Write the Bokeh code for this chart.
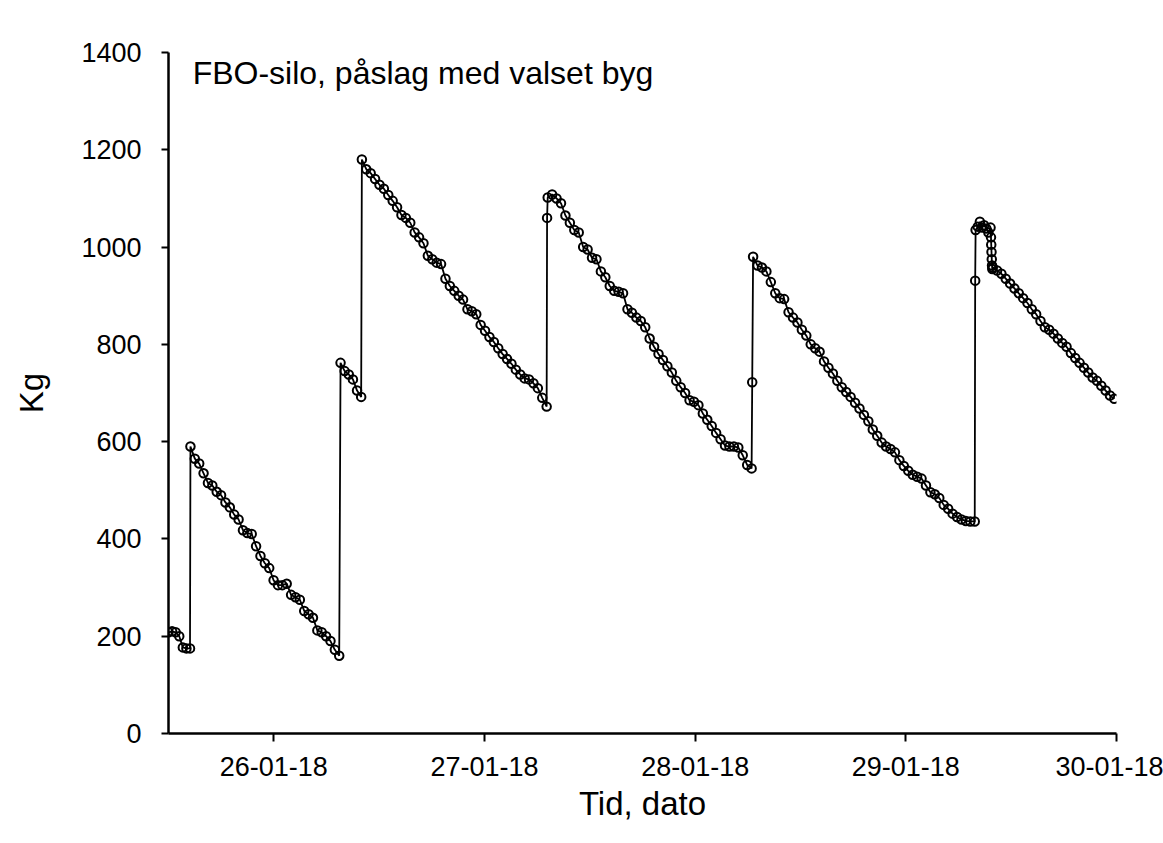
import numpy as np
import pandas as pd
from bokeh.plotting import figure
from bokeh.models import Range1d, FixedTicker, DatetimeTickFormatter, Label, ColumnDataSource
from bokeh.embed import file_html
from bokeh.resources import INLINE

# ---- data (hours since 25-01-18 12:00, silo content in kg) ----
t0 = pd.Timestamp("2018-01-25 12:00")

seg1_span = (0.0, 2.45)
seg1_kg = [208, 210, 208, 200, 177, 175, 175]

seg2_span = (2.5, 19.45)
seg2_kg = [590, 565, 555, 535, 515, 510, 497, 490, 475, 465,
           450, 440, 418, 412, 410, 385, 365, 350, 340, 315,
           305, 305, 308, 285, 280, 275, 252, 245, 238, 212,
           208, 200, 190, 172, 160]

seg3_span = (19.6, 21.95)
seg3_kg = [762, 745, 738, 728, 705, 692]

seg4_span = (22.03, 43.08)
seg4_kg = [1180, 1160, 1152, 1140, 1128, 1120, 1107, 1095, 1082, 1066,
           1060, 1050, 1030, 1020, 1008, 982, 975, 968, 965, 935,
           920, 910, 900, 892, 872, 868, 862, 840, 828, 815,
           805, 792, 780, 770, 760, 748, 738, 730, 728, 720,
           710, 690, 672]

fill4_span = (43.13, 43.13)
fill4_kg = [1060]

seg5_span = (43.2, 66.43)
seg5_kg = [1102, 1108, 1100, 1090, 1065, 1050, 1035, 1030, 1000, 995,
           978, 975, 950, 938, 920, 910, 908, 905, 872, 865,
           855, 848, 835, 812, 795, 780, 768, 755, 742, 725,
           712, 700, 685, 682, 675, 658, 645, 632, 618, 605,
           592, 590, 590, 588, 572, 552, 545]

fill5_span = (66.5, 66.5)
fill5_kg = [722]

seg6_span = (66.6, 91.85)
seg6_kg = [980, 962, 958, 950, 928, 905, 895, 893, 866, 855,
           845, 830, 818, 800, 792, 785, 765, 752, 740, 725,
           712, 702, 692, 680, 668, 655, 642, 625, 612, 598,
           590, 585, 578, 562, 550, 540, 532, 528, 524, 510,
           496, 492, 484, 470, 462, 452, 445, 440, 437, 436,
           436]

fill6_span = (91.9, 91.9)
fill6_kg = [931]

seg7a_span = (91.95, 93.65)
seg7a_kg = [1035, 1042, 1052, 1040, 1045, 1038, 1030, 1040]

seg7b_span = (93.7, 93.85)
seg7b_kg = [1020, 1005, 990, 975, 962, 955]

seg7c_span = (93.9, 107.75)
seg7c_kg = [958, 952, 945, 935, 925, 915, 905, 895, 885, 872,
            862, 848, 835, 830, 822, 812, 803, 795, 782, 772,
            762, 752, 742, 732, 725, 715, 705, 695, 688]

y_ticks = [0, 200, 400, 600, 800, 1000, 1200, 1400]
x_tick_days = ["2018-01-26", "2018-01-27", "2018-01-28", "2018-01-29", "2018-01-30"]

title_text = "FBO-silo, påslag med valset byg"
x_label = "Tid, dato"
y_label = "Kg"

# ---- build the series ----
segments = [
    (seg1_span, seg1_kg), (seg2_span, seg2_kg), (seg3_span, seg3_kg),
    (seg4_span, seg4_kg), (fill4_span, fill4_kg), (seg5_span, seg5_kg),
    (fill5_span, fill5_kg), (seg6_span, seg6_kg), (fill6_span, fill6_kg),
    (seg7a_span, seg7a_kg), (seg7b_span, seg7b_kg), (seg7c_span, seg7c_kg),
]
hours, kg = [], []
for (a, b), vals in segments:
    hours.extend(np.linspace(a, b, len(vals)))
    kg.extend(vals)
times = t0 + pd.to_timedelta(np.array(hours), unit="h")
src = ColumnDataSource(dict(t=times, kg=kg))

FONT = "Liberation Sans"

p = figure(width=1163, height=843, output_backend="svg", toolbar_location=None,
           x_axis_type="datetime",
           x_range=Range1d(t0, t0 + pd.Timedelta(hours=108)),
           y_range=Range1d(0, 1400),
           min_border_left=168, min_border_right=47,
           min_border_top=52, min_border_bottom=110)
p.outline_line_color = None
p.grid.visible = False
p.background_fill_color = "white"
p.border_fill_color = "white"

p.line("t", "kg", source=src, line_color="black", line_width=1.8)
p.scatter("t", "kg", source=src, marker="circle", size=8.5,
          line_color="black", line_width=2.0, fill_alpha=0)

# axes
xa = p.xaxis[0]
ya = p.yaxis[0]
xa.ticker = FixedTicker(ticks=[pd.Timestamp(d).value / 1e6 for d in x_tick_days])
fmt = "%d-%m-%y"
xa.formatter = DatetimeTickFormatter(microseconds=fmt, milliseconds=fmt, seconds=fmt,
                                     minsec=fmt, minutes=fmt, hourmin=fmt, hours=fmt,
                                     days=fmt, months=fmt, years=fmt)
ya.ticker = FixedTicker(ticks=y_ticks)

for ax in (xa, ya):
    ax.axis_line_color = "black"
    ax.axis_line_width = 2.5
    ax.major_tick_line_color = "black"
    ax.major_tick_line_width = 2
    ax.major_tick_in = 0
    ax.minor_tick_line_color = None
    ax.major_label_text_font = FONT
    ax.major_label_text_font_size = "27px"
    ax.major_label_text_color = "black"
    ax.axis_label_text_font = FONT
    ax.axis_label_text_font_size = "33px"
    ax.axis_label_text_font_style = "normal"
    ax.axis_label_text_color = "black"

xa.major_tick_out = 8
xa.major_label_standoff = 15
xa.axis_label = x_label
xa.axis_label_standoff = 6

ya.major_tick_out = 7
ya.major_label_standoff = 20
ya.axis_label = y_label
ya.axis_label_standoff = 28

p.add_layout(Label(x=t0 + pd.Timedelta(hours=2.75), y=1358, text=title_text,
                   text_font=FONT, text_font_size="32px", text_color="black",
                   text_baseline="alphabetic", text_align="left"))

open("out.html", "w").write(file_html(p, INLINE))
